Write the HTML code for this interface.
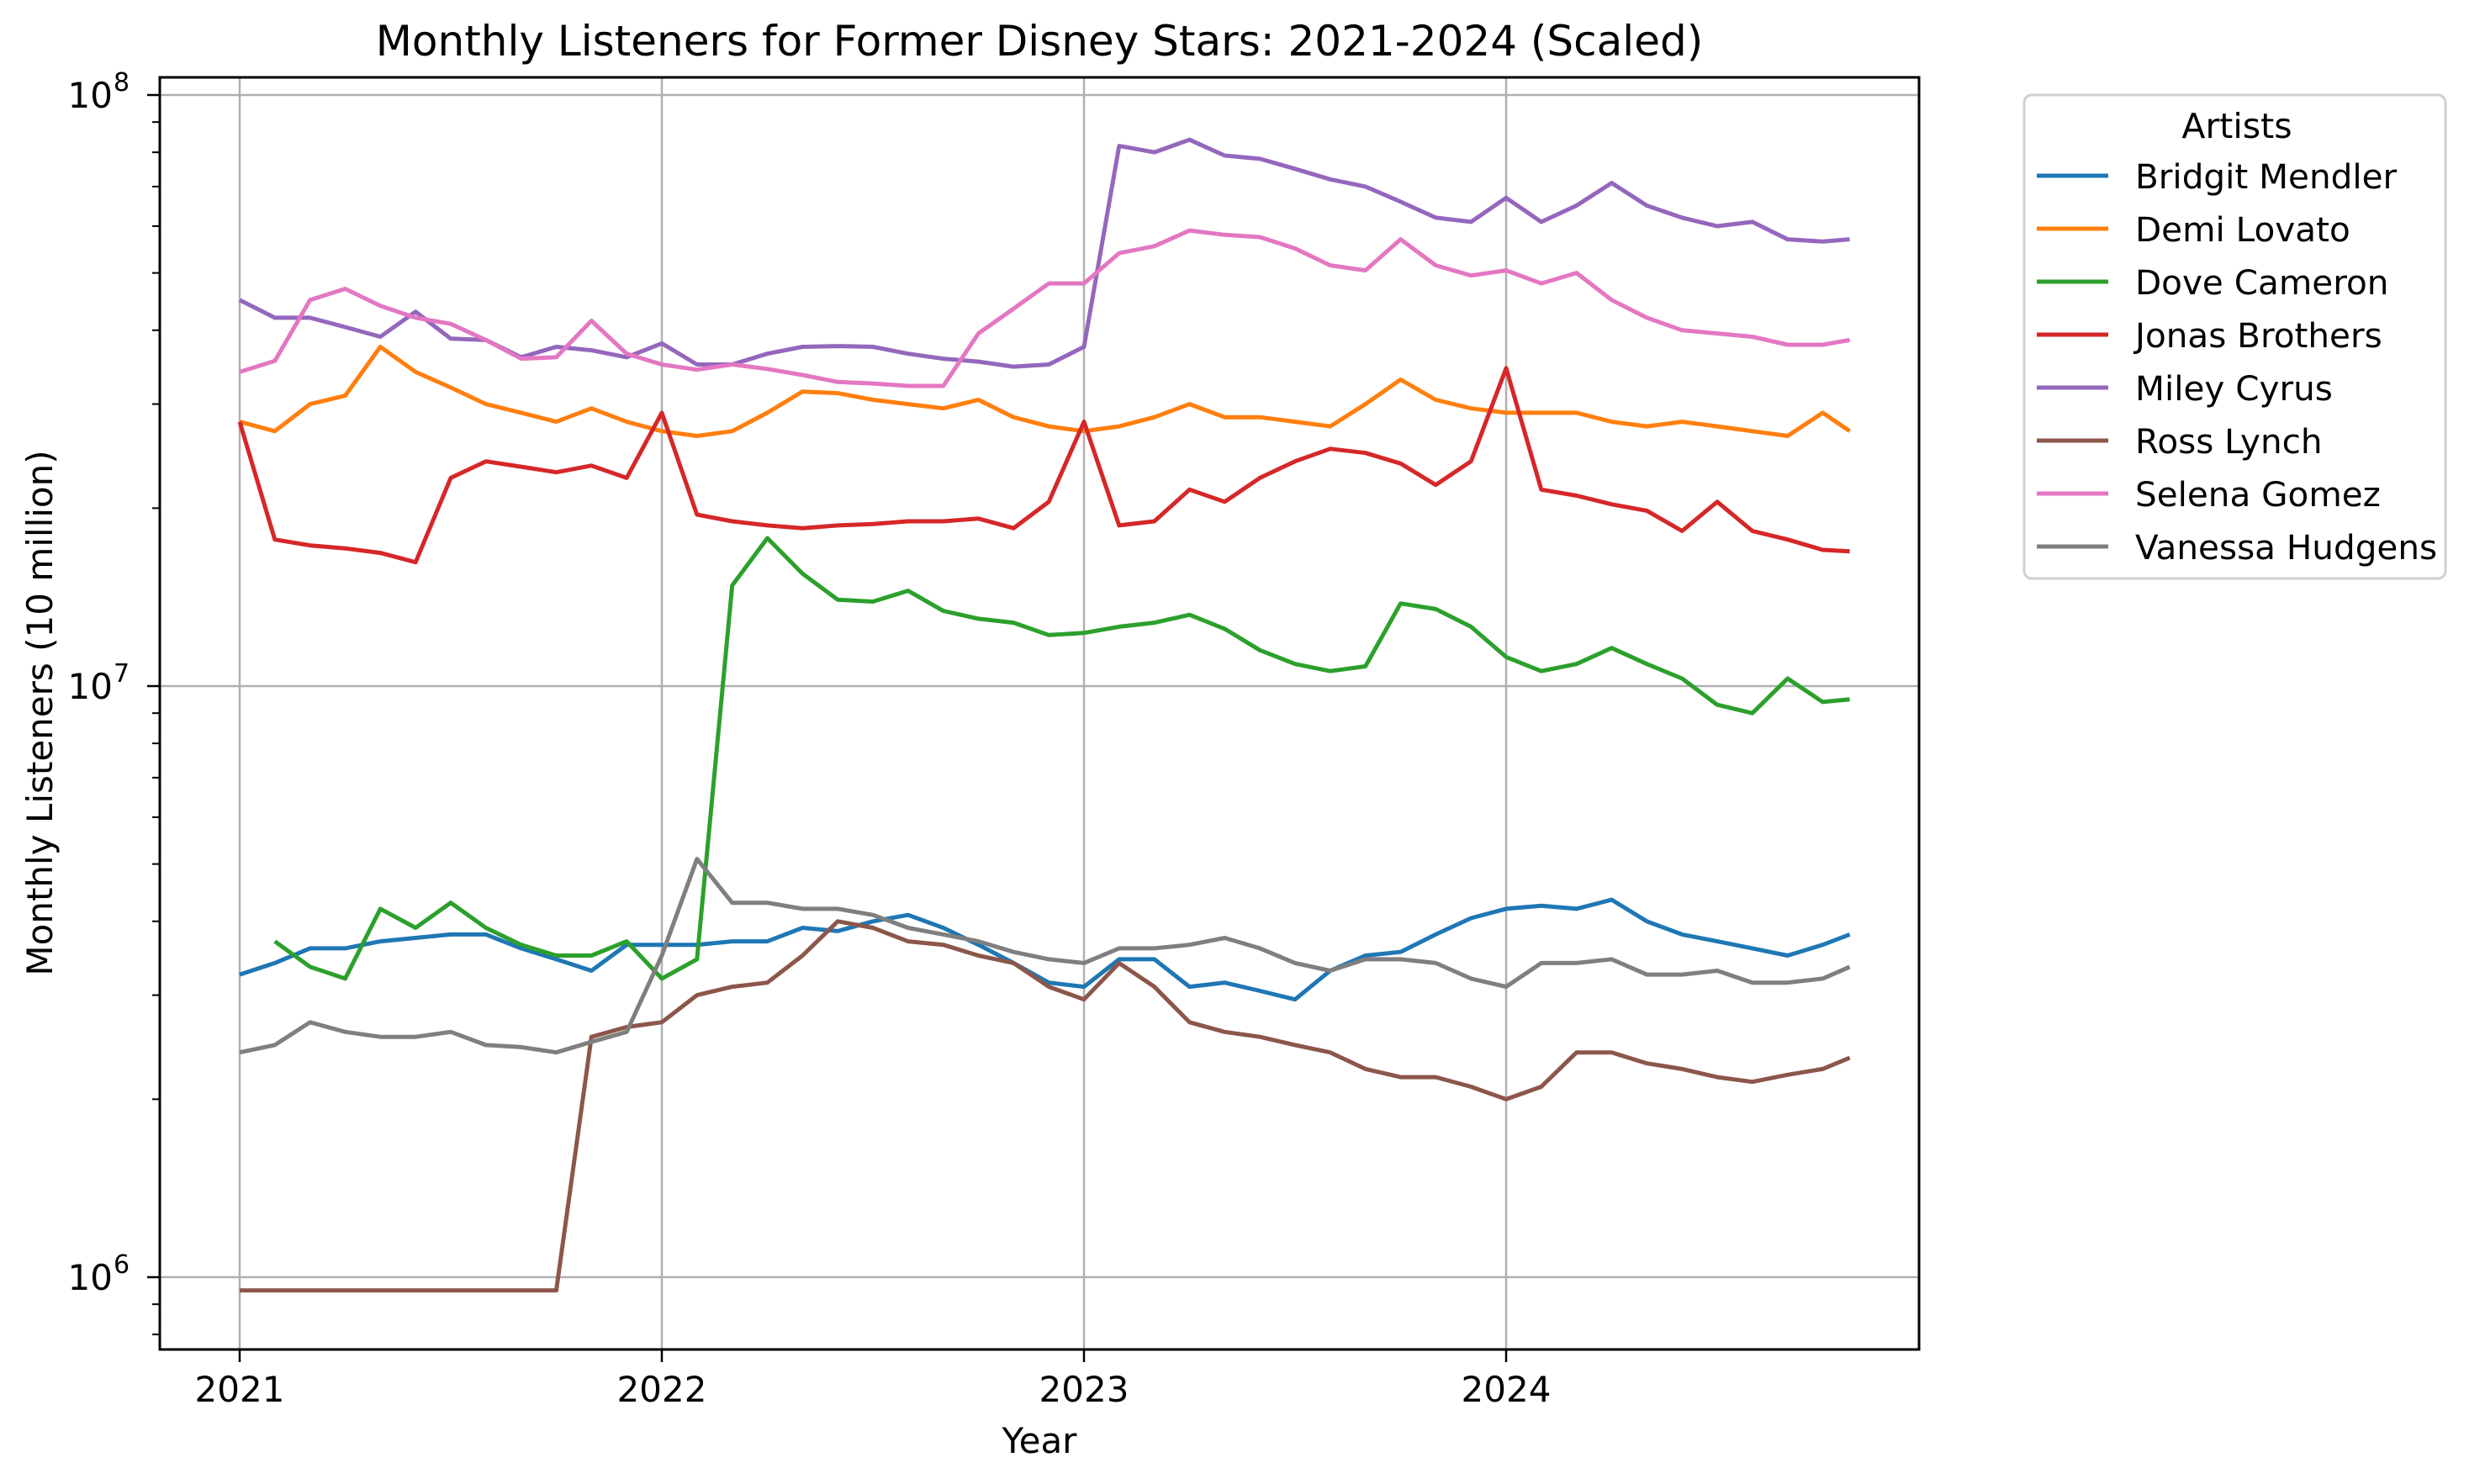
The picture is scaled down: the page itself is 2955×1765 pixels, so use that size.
<!DOCTYPE html>
<html><head><meta charset="utf-8"><style>
html,body{margin:0;padding:0;background:#fff;}
svg{display:block;font-family:"DejaVu Sans","Liberation Sans",sans-serif;}
</style></head><body>
<svg id="chart" width="2955" height="1765" viewBox="0 0 2955 1765" xmlns="http://www.w3.org/2000/svg">
<rect width="2955" height="1765" fill="#fff"/>
<text x="1236" y="66" font-size="50" text-anchor="middle">Monthly Listeners for Former Disney Stars: 2021-2024 (Scaled)</text>
<g id="grid"></g>
<g id="series"></g>
<rect x="190" y="92" width="2092" height="1513" fill="none" stroke="#000" stroke-width="3"/>
<g id="axes"></g>
<text x="1236" y="1728" font-size="42" text-anchor="middle">Year</text>
<text transform="translate(62,848) rotate(-90)" font-size="42" text-anchor="middle">Monthly Listeners (10 million)</text>
<g id="legend">
<rect x="2407" y="113" width="501" height="575" rx="9" fill="#fff" stroke="#d0d0d0" stroke-width="3"/>
<text x="2660" y="164" font-size="41" text-anchor="middle">Artists</text>
</g>
</svg>
<script>
const dates = ['2021-01','2021-02','2021-03','2021-04','2021-05','2021-06','2021-07','2021-08','2021-09','2021-10','2021-11','2021-12',
'2022-01','2022-02','2022-03','2022-04','2022-05','2022-06','2022-07','2022-08','2022-09','2022-10','2022-11','2022-12',
'2023-01','2023-02','2023-03','2023-04','2023-05','2023-06','2023-07','2023-08','2023-09','2023-10','2023-11','2023-12',
'2024-01','2024-02','2024-03','2024-04','2024-05','2024-06','2024-07','2024-08','2024-09','2024-10','2024-10-24'];
const artists = ['Bridgit Mendler','Demi Lovato','Dove Cameron','Jonas Brothers','Miley Cyrus','Ross Lynch','Selena Gomez','Vanessa Hudgens'];
const colors = ['#1f77b4','#ff7f0e','#2ca02c','#d62728','#9467bd','#8c564b','#e377c2','#7f7f7f'];
// values in millions of listeners
const bridgit = [3.25,3.4,3.6,3.6,3.7,3.75,3.8,3.8,3.6,3.45,3.3,3.65,3.65,3.65,3.7,3.7,3.9,3.85,4.0,4.1,3.9,3.65,3.4,3.15,3.1,3.45,3.45,3.1,3.15,3.05,2.95,3.3,3.5,3.55,3.8,4.05,4.2,4.25,4.2,4.35,4.0,3.8,3.7,3.6,3.5,3.65,3.8];
const demi = [28,27,30,31,37.5,34,32,30,29,28,29.5,28,27,26.5,27,29,31.5,31.3,30.5,30,29.5,30.5,28.5,27.5,27,27.5,28.5,30,28.5,28.5,28,27.5,30,33,30.5,29.5,29,29,29,28,27.5,28,27.5,27,26.5,29,27];
const dove = [null,3.7,3.35,3.2,4.2,3.9,4.3,3.9,3.65,3.5,3.5,3.7,3.2,3.45,14.8,17.8,15.5,14,13.9,14.5,13.4,13,12.8,12.2,12.3,12.6,12.8,13.2,12.5,11.5,10.9,10.6,10.8,13.8,13.5,12.6,11.2,10.6,10.9,11.6,10.9,10.3,9.3,9.0,10.3,9.4,9.5];
const jonas = [28,17.7,17.3,17.1,16.8,16.2,22.5,24,23.5,23,23.6,22.5,29,19.5,19,18.7,18.5,18.7,18.8,19,19,19.2,18.5,20.5,28,18.7,19,21.5,20.5,22.5,24,25.2,24.8,23.8,21.9,24,34.5,21.5,21,20.3,19.8,18.3,20.5,18.3,17.7,17,16.9];
const miley = [45,42,42,40.5,39,43,38.7,38.5,36,37.5,37,36,38,35,35,36.5,37.5,37.6,37.5,36.5,35.8,35.4,34.7,35,37.5,82,80,84,79,78,75,72,70,66,62,61,67,61,65,71,65,62,60,61,57,56.5,57];
const ross = [0.95,0.95,0.95,0.95,0.95,0.95,0.95,0.95,0.95,0.95,2.55,2.65,2.7,3.0,3.1,3.15,3.5,4.0,3.9,3.7,3.65,3.5,3.4,3.1,2.95,3.4,3.1,2.7,2.6,2.55,2.47,2.4,2.25,2.18,2.18,2.1,2.0,2.1,2.4,2.4,2.3,2.25,2.18,2.14,2.2,2.25,2.35];
const selena = [34,35.5,45,47,44,42,41,38.5,35.8,36,41.5,36.5,35,34.3,35,34.4,33.6,32.7,32.5,32.2,32.2,39.5,43.5,48,48,54,55.5,59,58,57.5,55,51.5,50.5,57,51.5,49.5,50.5,48,50,45,42,40,39.5,39,37.8,37.8,38.5];
const vanessa = [2.4,2.47,2.7,2.6,2.55,2.55,2.6,2.47,2.45,2.4,2.5,2.6,3.5,5.1,4.3,4.3,4.2,4.2,4.1,3.9,3.8,3.7,3.55,3.45,3.4,3.6,3.6,3.65,3.75,3.6,3.4,3.3,3.45,3.45,3.4,3.2,3.1,3.4,3.4,3.45,3.25,3.25,3.3,3.15,3.15,3.2,3.35];
const seriesValues = [bridgit,demi,dove,jonas,miley,ross,selena,vanessa];
const xTicks = ['2021','2022','2023','2024'];
const yTicksExp = [6,7,8];

const NS='http://www.w3.org/2000/svg';
const L=190,R=2282,T=92,B=1605;
const X0=285, PXY=502;
const Y8=113, DEC=703;
function tOf(s){const p=s.split('-');const y=+p[0],m=+p[1]-1,d=p[2]?+p[2]-1:0;return y+(m+d/30)/12;}
function xS(t){return X0+(t-2021)*PXY;}
function yS(vMillions){return Y8+(8-Math.log10(vMillions*1e6))*DEC;}
function mk(tag,attrs,parent){const e=document.createElementNS(NS,tag);for(const k in attrs)e.setAttribute(k,attrs[k]);parent.appendChild(e);return e;}

const grid=document.getElementById('grid'),axes=document.getElementById('axes'),ser=document.getElementById('series'),leg=document.getElementById('legend');
xTicks.forEach(lbl=>{
  const x=xS(+lbl);
  const g=mk('line',{x1:x,x2:x,y1:T,y2:B,stroke:'#b0b0b0','stroke-width':2.5},grid);
  
  
  const tk=mk('line',{x1:x,x2:x,y1:B,y2:B+15,stroke:'#000','stroke-width':2.5},axes);
  
  
  const tx=mk('text',{x:x,y:B+62,'font-size':42,'text-anchor':'middle'},axes);
  tx.textContent=lbl;
  
  
});
yTicksExp.forEach(e=>{
  const y=yS(Math.pow(10,e)/1e6);
  const g=mk('line',{x1:L,x2:R,y1:y,y2:y,stroke:'#b0b0b0','stroke-width':2.5},grid);
  
  
  const tk=mk('line',{x1:L-15,x2:L,y1:y,y2:y,stroke:'#000','stroke-width':2.5},axes);
  
  
  const tx=mk('text',{x:L-56,y:y+15,'font-size':42,'text-anchor':'end'},axes);
  tx.textContent='10';
  
  
  const sup=mk('text',{x:L-55,y:y-5,'font-size':30,'text-anchor':'start'},axes);
  sup.textContent=String(e);
  
  
  if(e<8){for(let k=2;k<=9;k++){
    const yy=yS(k*Math.pow(10,e)/1e6);
    const m=mk('line',{x1:L-9,x2:L,y1:yy,y2:yy,stroke:'#000','stroke-width':2},axes);
    
    
  }}
});
for(let k=8;k<=9;k++){const yy=yS(k*1e5/1e6);if(yy<B){const m=mk('line',{x1:L-9,x2:L,y1:yy,y2:yy,stroke:'#000','stroke-width':2},axes);

}}

seriesValues.forEach((vals,i)=>{
  let d='',pen=false;
  vals.forEach((v,j)=>{
    if(v==null){pen=false;return;}
    d+=(pen?'L':'M')+xS(tOf(dates[j])).toFixed(1)+' '+yS(v).toFixed(1)+' ';pen=true;
  });
  const p=mk('path',{d:d,fill:'none',stroke:colors[i],'stroke-width':5,'stroke-linejoin':'round'},ser);
  
  
  const ly=209+i*63;
  const ll=mk('line',{x1:2422,x2:2507,y1:ly,y2:ly,stroke:colors[i],'stroke-width':5},leg);
  
  
  const lt=mk('text',{x:2539,y:ly+15,'font-size':40.5},leg);
  lt.textContent=artists[i];
  
  
});
</script>
</body></html>
